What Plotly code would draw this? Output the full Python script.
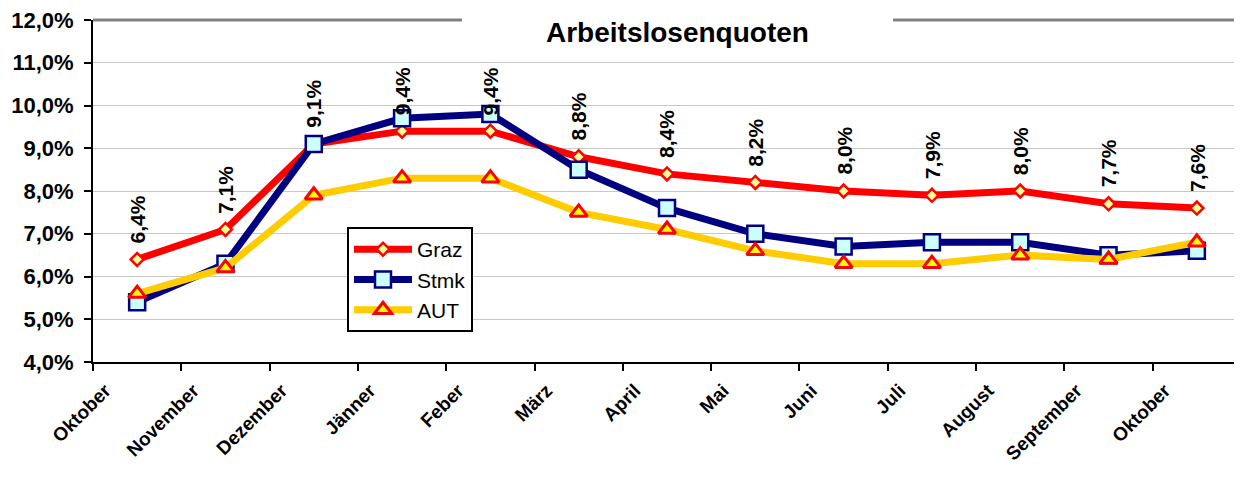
import plotly.graph_objects as go

months = ["Oktober", "November", "Dezember", "Jänner", "Feber", "März", "April",
          "Mai", "Juni", "Juli", "August", "September", "Oktober"]
graz = [6.4, 7.1, 9.1, 9.4, 9.4, 8.8, 8.4, 8.2, 8.0, 7.9, 8.0, 7.7, 7.6]
stmk = [5.4, 6.3, 9.1, 9.7, 9.8, 8.5, 7.6, 7.0, 6.7, 6.8, 6.8, 6.5, 6.6]
aut = [5.6, 6.2, 7.9, 8.3, 8.3, 7.5, 7.1, 6.6, 6.3, 6.3, 6.5, 6.4, 6.8]
y_ticks = [4, 5, 6, 7, 8, 9, 10, 11, 12]
y_ticktext = [f"{v},0%" for v in y_ticks]
title_text = "Arbeitslosenquoten"

x = list(range(len(months)))
FONT = "Arial, Liberation Sans, sans-serif"

# page body has ~8px margin; plot area target (page px): x 93..1241, y 20..362
OFF = 8
L, T = 93 - OFF, 20 - OFF
PW, PH = 1148, 342
W = L + PW + 2
H = T + PH + 116

fig = go.Figure()
fig.add_trace(go.Scatter(
    x=x, y=graz, name="Graz", mode="lines+markers",
    line=dict(color="#FF0000", width=7),
    marker=dict(symbol="diamond", size=10, color="#FFFF99",
                line=dict(color="#FF0000", width=2.5)),
))
fig.add_trace(go.Scatter(
    x=x, y=stmk, name="Stmk", mode="lines+markers",
    line=dict(color="#000080", width=7),
    marker=dict(symbol="square", size=16, color="#CCFFFF",
                line=dict(color="#000080", width=2.5)),
))
fig.add_trace(go.Scatter(
    x=x, y=aut, name="AUT", mode="lines+markers",
    line=dict(color="#FFCC00", width=7),
    marker=dict(symbol="triangle-up", size=15, color="#FFFF00",
                line=dict(color="#FF0000", width=3)),
))

# data labels for Graz
for xi, v in zip(x, graz):
    fig.add_annotation(
        x=xi, y=v, xref="x", yref="y",
        text=(f"{v:.1f}%").replace(".", ","),
        textangle=-90, showarrow=False,
        yanchor="bottom", xanchor="center", yshift=14,
        font=dict(family=FONT, size=21, color="black", weight="bold"),
    )

# title
fig.add_annotation(
    x=(677 - 93) / PW, y=(362 - 33) / PH, xref="paper", yref="paper",
    text=title_text, showarrow=False, xanchor="center", yanchor="middle",
    font=dict(family=FONT, size=28, color="black", weight="bold"),
)

# plot area border (gray), top line broken by title
border = dict(color="#808080", width=3)
fig.add_shape(type="line", xref="paper", yref="paper",
              x0=0, x1=(462 - 93) / PW, y0=1, y1=1, line=border)
fig.add_shape(type="line", xref="paper", yref="paper",
              x0=(893 - 93) / PW, x1=1, y0=1, y1=1, line=border)
fig.add_shape(type="line", xref="paper", yref="paper",
              x0=1, x1=1, y0=0, y1=1, line=border)

fig.update_layout(
    template="none",
    width=W, height=H,
    margin=dict(l=L, r=W - L - PW, t=T, b=H - T - PH, pad=0),
    paper_bgcolor="white", plot_bgcolor="white",
    font=dict(family=FONT, color="black"),
    showlegend=True,
    legend=dict(
        x=(347 - 93) / PW, y=(362 - 227) / PH, xanchor="left", yanchor="top",
        bordercolor="black", borderwidth=2, bgcolor="white",
        font=dict(family=FONT, size=21, color="black"),
        itemwidth=58,
    ),
    xaxis=dict(
        range=[-0.5, 12.5], tickmode="array", tickvals=x, ticktext=months,
        ticks="", tickangle=-45, showgrid=False, zeroline=False,
        showline=True, linecolor="black", linewidth=2,
        tickfont=dict(family=FONT, size=19, color="black", weight="bold"),
        ticklabelshift=-32, ticklabelstandoff=8,
        ticklabeloverflow="allow",
        minor=dict(tickmode="array", tickvals=[i - 0.5 for i in range(len(months) + 1)],
                   ticks="outside", ticklen=7, tickwidth=2, tickcolor="black",
                   showgrid=False),
        automargin=False,
    ),
    yaxis=dict(
        range=[4, 12], tickmode="array", tickvals=y_ticks, ticktext=y_ticktext,
        ticks="outside", ticklen=7, tickwidth=2, tickcolor="black",
        showgrid=True, gridcolor="#C8C8C8", gridwidth=1, zeroline=False,
        showline=True, linecolor="black", linewidth=2,
        tickfont=dict(family=FONT, size=22, color="black", weight="bold"),
        ticklabelstandoff=6, ticklabeloverflow="allow",
        automargin=False,
    ),
)

fig.write_html("out.html")
